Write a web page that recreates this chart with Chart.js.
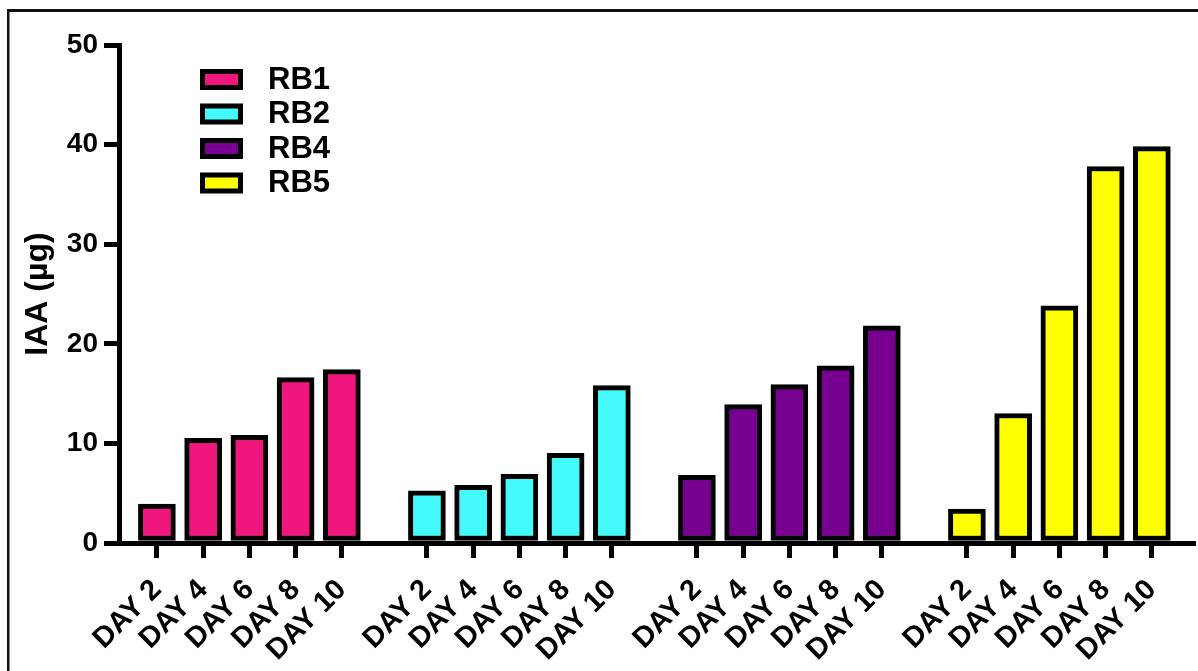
<!DOCTYPE html>
<html>
<head>
<meta charset="utf-8">
<script src="https://cdn.jsdelivr.net/npm/chart.js@4/dist/chart.umd.min.js"></script>
<style>
  html, body { margin: 0; padding: 0; background: #fff; }
  canvas { display: block; }
</style>
</head>
<body>
<canvas id="iaaChart" width="1198" height="671"></canvas>
<script>
const days = ['DAY 2', 'DAY 4', 'DAY 6', 'DAY 8', 'DAY 10'];
const strains = ['RB1', 'RB2', 'RB4', 'RB5'];
const rb1 = [3.9, 10.5, 10.8, 16.6, 17.4];
const rb2 = [5.25, 5.8, 6.9, 9.0, 15.8];
const rb4 = [6.8, 13.9, 15.9, 17.8, 21.8];
const rb5 = [3.4, 13.0, 23.8, 37.8, 39.8];
const colors = ['#ef167e', '#44f9f9', '#770090', '#ffff00'];

// spacing between the start of one group and the next, in bar slots
const GROUP_STEP = 5.84;

const series = [rb1, rb2, rb4, rb5];
const xPos = [];
series.forEach((vals, g) => vals.forEach((v, j) => xPos.push(g * GROUP_STEP + j)));

const FONT = 'Liberation Sans, Arial, sans-serif';

const framePlugin = {
  id: 'frame',
  beforeDraw(chart) {
    const c = chart.ctx;
    c.save();
    c.fillStyle = '#fff';
    c.fillRect(0, 0, chart.width, chart.height);
    c.fillStyle = '#111';
    c.fillRect(8, 9, chart.width - 8, 3);
    c.fillRect(7, 9, 2.5, chart.height - 9);
    c.restore();
  }
};

const legendPlugin = {
  id: 'boxLegend',
  afterDraw(chart) {
    const c = chart.ctx;
    c.save();
    chart.data.datasets.forEach((ds, i) => {
      const y = 69 + i * 34.5;
      c.fillStyle = '#000';
      c.fillRect(200, y, 43, 21);
      c.fillStyle = ds.backgroundColor;
      c.fillRect(205, y + 5, 33, 11);
      c.fillStyle = '#000';
      c.font = 'bold 31px ' + FONT;
      c.textBaseline = 'middle';
      c.textAlign = 'left';
      c.fillText(ds.label, 268, y + 11);
    });
    c.restore();
  }
};

const ctx = document.getElementById('iaaChart').getContext('2d');
new Chart(ctx, {
  type: 'bar',
  data: {
    datasets: series.map((vals, g) => ({
      label: strains[g],
      data: vals.map((v, j) => ({ x: g * GROUP_STEP + j, y: v })),
      backgroundColor: colors[g],
      borderColor: '#000',
      borderWidth: 5,
      borderSkipped: false,
      grouped: false,
      categoryPercentage: 1,
      barPercentage: 1,
      maxBarThickness: 37
    }))
  },
  options: {
    responsive: false,
    animation: false,
    events: [],
    layout: { padding: { top: 45, right: 5, left: 0, bottom: 0 } },
    plugins: {
      legend: { display: false },
      tooltip: { enabled: false }
    },
    scales: {
      x: {
        type: 'linear',
        offset: false,
        min: -0.82,
        max: 3 * GROUP_STEP + 4 + 0.89,
        afterBuildTicks(scale) {
          scale.ticks = xPos.map(v => ({ value: v }));
        },
        afterFit(scale) { scale.height = 128; },
        ticks: {
          autoSkip: false,
          maxRotation: 45,
          minRotation: 45,
          padding: 15,
          color: '#000',
          font: { family: FONT, size: 29, weight: 'bold' },
          callback: (value, index) => days[index % days.length]
        },
        grid: {
          offset: false,
          drawOnChartArea: false,
          drawTicks: true,
          tickLength: 15,
          lineWidth: 5,
          color: '#000'
        },
        border: { display: true, width: 5, color: '#000' }
      },
      y: {
        min: 0,
        max: 50,
        afterFit(scale) { scale.width = 119; },
        ticks: {
          stepSize: 10,
          padding: 6,
          color: '#000',
          font: { family: FONT, size: 28, weight: 'bold' }
        },
        grid: {
          drawOnChartArea: false,
          drawTicks: true,
          tickLength: 15,
          lineWidth: 5,
          color: '#000'
        },
        border: { display: true, width: 5, color: '#000' },
        title: {
          display: true,
          text: 'IAA (µg)',
          color: '#000',
          padding: { top: 19, bottom: 0 },
          font: { family: FONT, size: 32, weight: 'bold' }
        }
      }
    }
  },
  plugins: [framePlugin, legendPlugin]
});
</script>
</body>
</html>
